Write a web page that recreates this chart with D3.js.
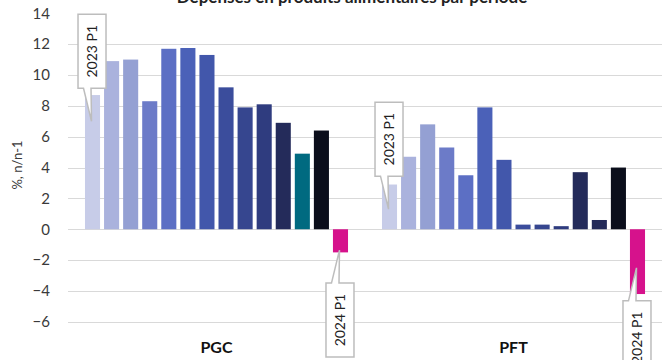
<!DOCTYPE html>
<html>
<head>
<meta charset="utf-8">
<script src="https://cdn.jsdelivr.net/npm/d3@7"></script>
<style>
  html, body { margin: 0; padding: 0; background: #fff; }
  svg { display: block; font-family: Lato, "Open Sans", sans-serif; }
</style>
</head>
<body>
<svg id="chart" width="662" height="360"></svg>
<script>
// ---- data ----
const title = "Dépenses en produits alimentaires par période";
const yLabel = "%, n/n-1";
const groups = ["PGC", "PFT"];
const periods = ["2023 P1","2023 P2","2023 P3","2023 P4","2023 P5","2023 P6","2023 P7",
                 "2023 P8","2023 P9","2023 P10","2023 P11","2023 P12","2023 P13","2024 P1"];
const valuesPGC = [8.7, 10.9, 11.0, 8.3, 11.7, 11.75, 11.3, 9.2, 7.9, 8.1, 6.9, 4.9, 6.4, -1.5];
const valuesPFT = [2.9, 4.7, 6.8, 5.3, 3.5, 7.9, 4.5, 0.3, 0.3, 0.2, 3.7, 0.6, 4.0, -4.2];
const colorsPGC = ["#c7cce8","#aab2dd","#94a0d3","#6c7bc8","#5c6fc4","#4b61b8","#4257ab",
                   "#3b4d9c","#36468f","#2f3c7f","#242b5a","#006a80","#0b0e1b","#d6128c"];
const colorsPFT = ["#c7cce8","#aab2dd","#94a0d3","#6c7bc8","#5c6fc4","#4b61b8","#4257ab",
                   "#3b4d9c","#36468f","#2f3c7f","#242b5a","#232a58","#0b0e1b","#d6128c"];
const yTicks = [-6, -4, -2, 0, 2, 4, 6, 8, 10, 12, 14];
// callouts: group, period, value where the pointer ends, side of the box
const callouts = [
  { group: "PGC", period: "2023 P1", tip: 7.0,  side: "top" },
  { group: "PFT", period: "2023 P1", tip: 1.3,  side: "top" },
  { group: "PGC", period: "2024 P1", tip: -1.35, side: "bottom" },
  { group: "PFT", period: "2024 P1", tip: -2.5, side: "bottom" }
];

const seriesByGroup = { PGC: valuesPGC, PFT: valuesPFT };
const colorsByGroup = { PGC: colorsPGC, PFT: colorsPFT };

// ---- layout ----
const svg = d3.select("#chart");
const left = 68, right = 662;

const y = d3.scaleLinear().domain([-6, 14]).range([321.8, 13.3]);
const x0 = d3.scaleBand().domain(groups).range([left, right]).padding(0);
const x1 = d3.scaleBand().domain(periods).range([0, x0.bandwidth()])
  .paddingInner(0.21).paddingOuter(0.89);

// title
svg.append("text")
  .attr("x", 352).attr("y", 3)
  .attr("text-anchor", "middle")
  .attr("font-size", 17).attr("font-weight", 700)
  .attr("fill", "#222")
  .text(title);

// gridlines
svg.append("g")
  .selectAll("line")
  .data(yTicks.filter(t => t !== 14))
  .join("line")
  .attr("x1", left).attr("x2", right)
  .attr("y1", d => Math.round(y(d)) + 0.5).attr("y2", d => Math.round(y(d)) + 0.5)
  .attr("stroke", "#d9d9d9").attr("stroke-width", 1);

// y axis labels
const yAxis = d3.axisLeft(y).tickValues(yTicks).tickSize(0).tickPadding(0);
const gy = svg.append("g").attr("transform", "translate(50,0)").call(yAxis);
gy.select(".domain").remove();
gy.selectAll("text")
  .attr("font-size", 15).attr("font-family", "Lato, sans-serif")
  .attr("fill", "#3a3a3a");

// y label
svg.append("text")
  .attr("transform", "translate(22,165) rotate(-90)")
  .attr("text-anchor", "middle")
  .attr("font-size", 13).attr("fill", "#3a3a3a")
  .text(yLabel);

// bars
const gGroups = svg.append("g").selectAll("g")
  .data(groups)
  .join("g")
  .attr("transform", d => `translate(${x0(d)},0)`);

gGroups.selectAll("rect")
  .data(g => periods.map((p, i) => ({ group: g, period: p, value: seriesByGroup[g][i], color: colorsByGroup[g][i] })))
  .join("rect")
  .attr("x", d => x1(d.period))
  .attr("width", x1.bandwidth())
  .attr("y", d => y(Math.max(0, d.value)))
  .attr("height", d => Math.abs(y(d.value) - y(0)))
  .attr("fill", d => d.color);

// category labels
svg.append("g").selectAll("text")
  .data(groups)
  .join("text")
  .attr("x", d => x0(d) + x0.bandwidth() / 2)
  .attr("y", 353)
  .attr("text-anchor", "middle")
  .attr("font-size", 16).attr("font-weight", 700)
  .attr("fill", "#111")
  .text(d => d);

// callouts
const boxW = 28, boxH = 74, gap = 33;
const gc = svg.append("g");
callouts.forEach(c => {
  const cx = x0(c.group) + x1(c.period) + x1.bandwidth() / 2;
  const tx = cx - 1, ty = y(c.tip);
  const bx = cx - 14.5;
  const b1 = cx - 9, b2 = cx - 1.5;
  let path, by;
  if (c.side === "top") {
    by = ty - gap - boxH;
    const bb = by + boxH;
    path = `M${bx},${by} H${bx + boxW} V${bb} H${b2} L${tx},${ty} L${b1},${bb} H${bx} Z`;
  } else {
    by = ty + gap;
    const bb = by + boxH;
    path = `M${bx},${by} H${b1} L${tx},${ty} L${b2},${by} H${bx + boxW} V${bb} H${bx} Z`;
  }
  gc.append("path")
    .attr("d", path)
    .attr("fill", "#fff")
    .attr("stroke", "#bdbdbd")
    .attr("stroke-width", 1.5)
    .attr("stroke-linejoin", "miter");
  gc.append("text")
    .attr("transform", `translate(${bx + boxW / 2 + 5},${by + boxH / 2}) rotate(-90)`)
    .attr("text-anchor", "middle")
    .attr("font-size", 14).attr("fill", "#222")
    .text(c.period);
});
</script>
</body>
</html>
